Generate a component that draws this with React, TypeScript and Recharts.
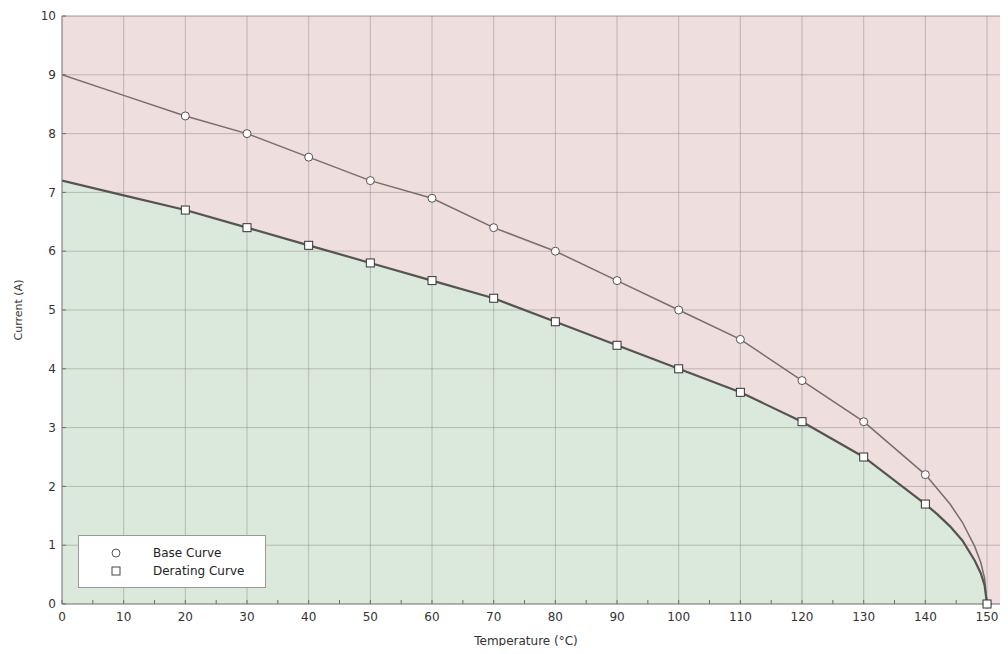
import React from "react";
import {
  ComposedChart,
  Area,
  Line,
  XAxis,
  YAxis,
  CartesianGrid,
  ReferenceLine,
  Legend,
} from "recharts";

// temperature (°C) sample points along the curves
const temps = [0, 10, 20, 30, 40, 50, 60, 70, 80, 90, 100, 110, 120, 130, 140, 142, 144, 146, 148, 149, 149.6, 150];
// current (A)
const baseCurrent = [9.0, 8.65, 8.3, 8.0, 7.6, 7.2, 6.9, 6.4, 6.0, 5.5, 5.0, 4.5, 3.8, 3.1, 2.2, 1.95, 1.7, 1.39, 0.98, 0.7, 0.44, 0];
const deratingCurrent = [7.2, 6.95, 6.7, 6.4, 6.1, 5.8, 5.5, 5.2, 4.8, 4.4, 4.0, 3.6, 3.1, 2.5, 1.7, 1.52, 1.32, 1.08, 0.74, 0.52, 0.32, 0];
const markerTemps = [20, 30, 40, 50, 60, 70, 80, 90, 100, 110, 120, 130, 140, 150];

const xTicks = [0, 5, 10, 15, 20, 25, 30, 35, 40, 45, 50, 55, 60, 65, 70, 75, 80, 85, 90, 95, 100, 105, 110, 115, 120, 125, 130, 135, 140, 145, 150];
const xGrid = [10, 20, 30, 40, 50, 60, 70, 80, 90, 100, 110, 120, 130, 140, 150];
const yTicks = [0, 1, 2, 3, 4, 5, 6, 7, 8, 9, 10];
const yGrid = [1, 2, 3, 4, 5, 6, 7, 8, 9, 10];

const data = temps.map((t, i) => ({
  t,
  base: baseCurrent[i],
  derating: deratingCurrent[i],
  mark: markerTemps.includes(t),
}));

const FONT = "'DejaVu Sans', Tahoma, sans-serif";
const PINK = "#eedede";
const GREEN = "#dbe9dc";
const GRID = "#7d7272";

const circleDot = (p: any) =>
  p.payload.mark ? (
    <circle key={`c-${p.index}`} cx={p.cx} cy={p.cy} r={4} fill="#fff" stroke="#5a5050" strokeWidth={1} />
  ) : (
    <g key={`c-${p.index}`} />
  );

const squareDot = (p: any) =>
  p.payload.mark ? (
    <rect key={`s-${p.index}`} x={p.cx - 4} y={p.cy - 4} width={8} height={8} fill="#fff" stroke="#333" strokeWidth={1} />
  ) : (
    <g key={`s-${p.index}`} />
  );

const LegendBox = () => (
  <div
    style={{
      width: 188,
      height: 53,
      boxSizing: "border-box",
      background: "#fff",
      border: "1px solid #999",
      fontFamily: FONT,
      fontSize: 12,
      color: "#222",
      paddingTop: 8,
    }}
  >
    <div style={{ display: "flex", alignItems: "center", height: 18 }}>
      <svg width={74} height={12}>
        <circle cx={37} cy={6} r={4} fill="#fff" stroke="#555" />
      </svg>
      <span>Base Curve</span>
    </div>
    <div style={{ display: "flex", alignItems: "center", height: 18 }}>
      <svg width={74} height={12}>
        <rect x={33} y={2} width={8} height={8} fill="#fff" stroke="#444" />
      </svg>
      <span>Derating Curve</span>
    </div>
  </div>
);

export default function App() {
  return (
    <div style={{ position: "relative", width: 1008, height: 654, margin: -8, background: "#fff" }}>
      <ComposedChart
        width={1008}
        height={654}
        data={data}
        margin={{ top: 16, right: 0, left: 0, bottom: 0 }}
        style={{ fontFamily: FONT }}
      >
        <CartesianGrid horizontal={false} vertical={false} fill={PINK} />
        <Area
          dataKey="derating"
          type="linear"
          fill={GREEN}
          fillOpacity={1}
          stroke="none"
          isAnimationActive={false}
          legendType="none"
        />
        {xGrid.map((v) => (
          <ReferenceLine key={`gx-${v}`} x={v} stroke={GRID} strokeOpacity={0.4} />
        ))}
        {yGrid.map((v) => (
          <ReferenceLine key={`gy-${v}`} y={v} stroke={GRID} strokeOpacity={v === 10 ? 0.7 : 0.4} />
        ))}
        <XAxis
          dataKey="t"
          type="number"
          domain={[0, 153.4]}
          allowDataOverflow
          ticks={xTicks}
          interval={0}
          tickFormatter={(v: number) => (v % 10 === 0 ? String(v) : "")}
          tickSize={-4}
          tickMargin={12}
          height={50}
          axisLine={{ stroke: "#6e6e6e" }}
          tickLine={{ stroke: "#6e6e6e" }}
          tick={{ fill: "#333", fontSize: 12 }}
          label={{ value: "Temperature (°C)", position: "insideBottom", offset: 9, dx: -9, fill: "#333", fontSize: 12 }}
        />
        <YAxis
          type="number"
          domain={[0, 10]}
          ticks={yTicks}
          interval={0}
          width={62}
          tickSize={-4}
          tickMargin={10}
          axisLine={{ stroke: "#6e6e6e" }}
          tickLine={{ stroke: "#6e6e6e" }}
          tick={{ fill: "#333", fontSize: 12 }}
          label={{ value: "Current (A)", angle: -90, position: "center", dx: -13, fill: "#333", fontSize: 11 }}
        />
        <Line
          dataKey="base"
          name="Base Curve"
          type="linear"
          stroke="#7a6c6c"
          strokeWidth={1.5}
          dot={circleDot}
          activeDot={false}
          isAnimationActive={false}
        />
        <Line
          dataKey="derating"
          name="Derating Curve"
          type="linear"
          stroke="#575353"
          strokeWidth={2.2}
          dot={squareDot}
          activeDot={false}
          isAnimationActive={false}
        />
        <Legend
          layout="vertical"
          align="center"
          verticalAlign="middle"
          content={() => <LegendBox />}
          wrapperStyle={{ left: 78, top: 535, width: 188, height: 53 }}
        />
      </ComposedChart>
    </div>
  );
}
